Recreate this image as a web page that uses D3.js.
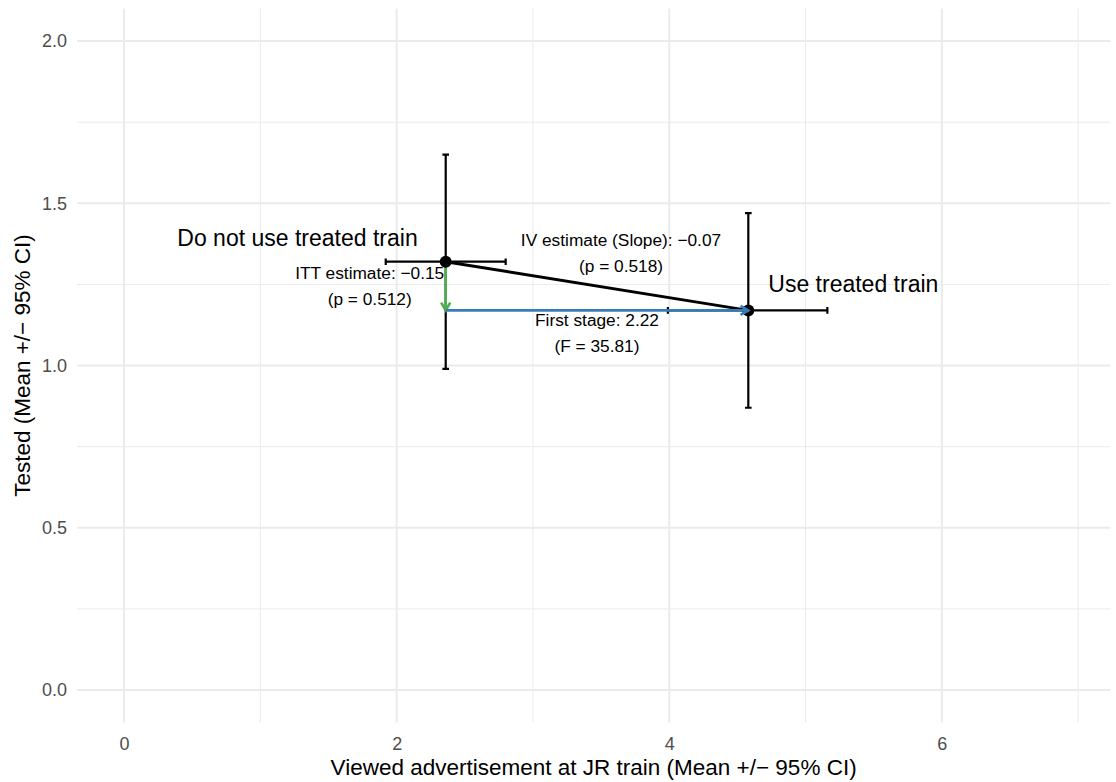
<!DOCTYPE html>
<html>
<head>
<meta charset="utf-8">
<script src="https://cdn.jsdelivr.net/npm/d3@7"></script>
<style>
  html, body { margin: 0; padding: 0; background: #fff; }
  svg text { font-family: "Liberation Sans", Arial, Helvetica, sans-serif; }
</style>
</head>
<body>
<svg id="chart" width="1116" height="782"></svg>
<script>
// Group means and 95% CIs
const groups = ['Do not use treated train', 'Use treated train'];
const xMean = [2.36, 4.58];
const xLow = [1.92, 3.99];
const xHigh = [2.80, 5.16];
const yMean = [1.32, 1.17];
const yLow = [0.99, 0.87];
const yHigh = [1.65, 1.47];

const xTicks = [0, 2, 4, 6];
const xMinor = [1, 3, 5, 7];
const yTicks = [0, 0.5, 1.0, 1.5, 2.0];
const yMinor = [0.25, 0.75, 1.25, 1.75];

const ivLabel = ['IV estimate (Slope): \u22120.07', '(p = 0.518)'];
const ittLabel = ['ITT estimate: \u22120.15', '(p = 0.512)'];
const fsLabel = ['First stage: 2.22', '(F = 35.81)'];

const xTitle = 'Viewed advertisement at JR train (Mean +/\u2212 95% CI)';
const yTitle = 'Tested (Mean +/\u2212 95% CI)';

const svg = d3.select('#chart');

const x = d3.scaleLinear().domain([-0.345, 7.235]).range([77, 1110.2]);
const y = d3.scaleLinear().domain([-0.1, 2.1]).range([722.5, 8.6]);

const [px0, px1] = x.range();
const [py0, py1] = y.range();

// grid
const grid = svg.append('g');
grid.selectAll('.ym').data(yMinor).join('line')
    .attr('x1', px0).attr('x2', px1)
    .attr('y1', d => y(d)).attr('y2', d => y(d))
    .attr('stroke', '#EBEBEB').attr('stroke-width', 1);
grid.selectAll('.xm').data(xMinor).join('line')
    .attr('y1', py0).attr('y2', py1)
    .attr('x1', d => x(d)).attr('x2', d => x(d))
    .attr('stroke', '#EBEBEB').attr('stroke-width', 1);
grid.selectAll('.yM').data(yTicks).join('line')
    .attr('x1', px0).attr('x2', px1)
    .attr('y1', d => y(d)).attr('y2', d => y(d))
    .attr('stroke', '#EBEBEB').attr('stroke-width', 2);
grid.selectAll('.xM').data(xTicks).join('line')
    .attr('y1', py0).attr('y2', py1)
    .attr('x1', d => x(d)).attr('x2', d => x(d))
    .attr('stroke', '#EBEBEB').attr('stroke-width', 2);

// axes (labels only, theme_minimal style)
const xAxis = svg.append('g')
    .attr('transform', `translate(0,${py0 + 9})`)
    .call(d3.axisBottom(x).tickValues(xTicks).tickFormat(d3.format('d')).tickSize(0).tickPadding(0));
xAxis.select('.domain').remove();
xAxis.selectAll('text')
    .attr('dy', null).attr('y', 18.5)
    .attr('font-size', 18).attr('fill', '#4D4D4D');

const yAxis = svg.append('g')
    .attr('transform', `translate(${px0 - 10},0)`)
    .call(d3.axisLeft(y).tickValues(yTicks).tickFormat(d3.format('.1f')).tickSize(0).tickPadding(0));
yAxis.select('.domain').remove();
yAxis.selectAll('text')
    .attr('font-size', 18).attr('fill', '#4D4D4D');
yAxis.attr('font-family', null);
xAxis.attr('font-family', null);

svg.append('text')
    .attr('x', (px0 + px1) / 2).attr('y', 775)
    .attr('text-anchor', 'middle').attr('font-size', 22.5).attr('fill', '#000')
    .text(xTitle);
svg.append('text')
    .attr('transform', `translate(30,${(py0 + py1) / 2}) rotate(-90)`)
    .attr('text-anchor', 'middle').attr('font-size', 22.5).attr('fill', '#000')
    .text(yTitle);

const idx = d3.range(groups.length);
const plot = svg.append('g');

// error bars
const cap = 3.3;
plot.selectAll('.ev').data(idx).join('path')
    .attr('d', i => `M${x(xMean[i])},${y(yLow[i])}V${y(yHigh[i])}` +
        `M${x(xMean[i]) - cap},${y(yLow[i])}H${x(xMean[i]) + cap}` +
        `M${x(xMean[i]) - cap},${y(yHigh[i])}H${x(xMean[i]) + cap}`)
    .attr('stroke', '#000').attr('stroke-width', 2.2).attr('fill', 'none');
plot.selectAll('.eh').data(idx).join('path')
    .attr('d', i => `M${x(xLow[i])},${y(yMean[i])}H${x(xHigh[i])}` +
        `M${x(xLow[i])},${y(yMean[i]) - cap}V${y(yMean[i]) + cap}` +
        `M${x(xHigh[i])},${y(yMean[i]) - cap}V${y(yMean[i]) + cap}`)
    .attr('stroke', '#000').attr('stroke-width', 2.2).attr('fill', 'none');

// slope line
plot.append('line')
    .attr('x1', x(xMean[0])).attr('y1', y(yMean[0]))
    .attr('x2', x(xMean[1])).attr('y2', y(yMean[1]))
    .attr('stroke', '#000').attr('stroke-width', 3);

function arrow(x1, y1, x2, y2, color) {
    const g = plot.append('g');
    g.append('line')
        .attr('x1', x1).attr('y1', y1).attr('x2', x2).attr('y2', y2)
        .attr('stroke', color).attr('stroke-width', 2.6);
    const a = Math.atan2(y2 - y1, x2 - x1);
    const len = 9, spread = Math.PI / 6;
    const p1 = [x2 - len * Math.cos(a - spread), y2 - len * Math.sin(a - spread)];
    const p2 = [x2 - len * Math.cos(a + spread), y2 - len * Math.sin(a + spread)];
    g.append('path')
        .attr('d', `M${p1[0]},${p1[1]}L${x2},${y2}L${p2[0]},${p2[1]}`)
        .attr('stroke', color).attr('stroke-width', 2.6).attr('fill', 'none')
        .attr('stroke-linejoin', 'miter');
}

// ITT (green) drawn under the points
arrow(x(xMean[0]), y(yMean[0]), x(xMean[0]), y(yMean[1]), '#4DAF4A');

// points
plot.selectAll('.pt').data(idx).join('circle')
    .attr('cx', i => x(xMean[i])).attr('cy', i => y(yMean[i]))
    .attr('r', 6).attr('fill', '#000');

// first stage (blue) on top
arrow(x(xMean[0]), y(yMean[1]), x(xMean[1]), y(yMean[1]), '#377EB8');

// group labels
plot.append('text')
    .attr('x', x(xMean[0]) - 28).attr('y', y(yMean[0]) - 16)
    .attr('text-anchor', 'end').attr('font-size', 23).text(groups[0]);
plot.append('text')
    .attr('x', x(xMean[1]) + 20).attr('y', y(yMean[1]) - 18)
    .attr('text-anchor', 'start').attr('font-size', 23).text(groups[1]);

function twoLines(lines, cx, by) {
    plot.selectAll(null).data(lines).join('text')
        .attr('x', cx).attr('y', (d, i) => by + i * 26)
        .attr('text-anchor', 'middle').attr('font-size', 17.3).attr('fill', '#000')
        .text(d => d);
}
const midX = (x(xMean[0]) + x(xMean[1])) / 2;
twoLines(ivLabel, midX + 24, y(yMean[0]) - 16);
twoLines(ittLabel, x(xMean[0]) - 76, y(yMean[0]) + 17);
twoLines(fsLabel, midX, y(yMean[1]) + 16);
</script>
</body>
</html>
